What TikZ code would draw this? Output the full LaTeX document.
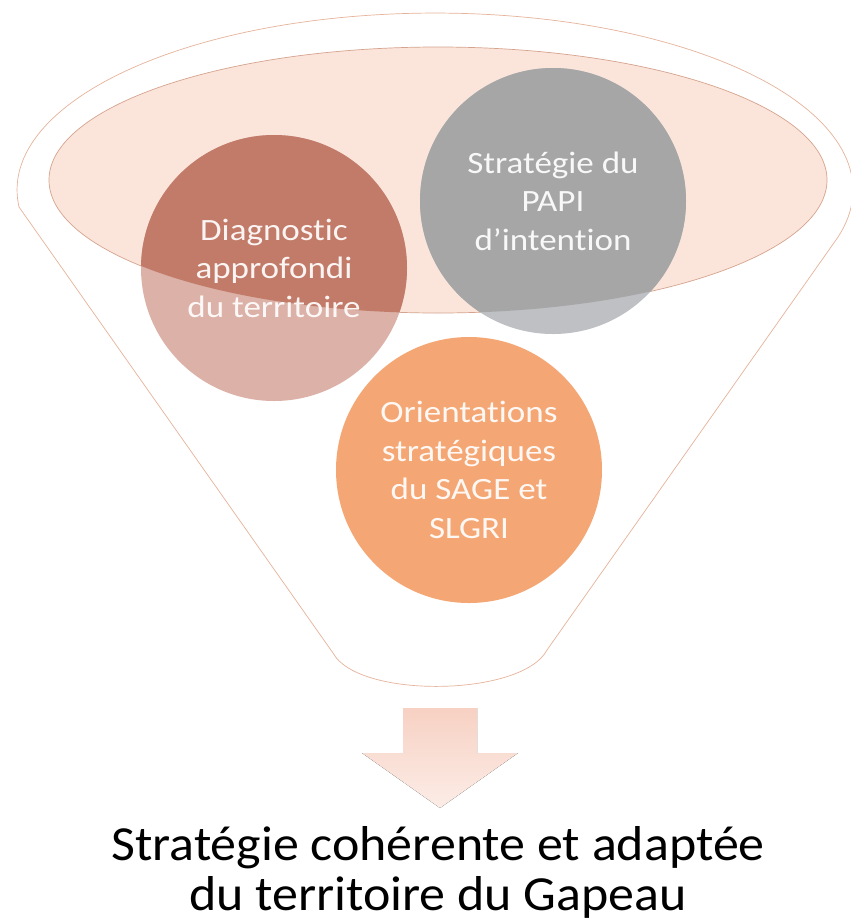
\documentclass[tikz,border=0pt]{standalone}
\usepackage{fontspec}
\setmainfont{Carlito}[Ligatures=NoCommon]
\newfontfamily\bubblefont{Carlito}[FakeStretch=1.13, Ligatures=NoCommon]
\newfontfamily\outcomefont{Carlito}[FakeStretch=1.06, Ligatures=NoCommon]
\usepackage{xcolor}
\usepackage{tikz}
\usetikzlibrary{calc}
\definecolor{funnelline}{HTML}{E6B39B}
\definecolor{poolfill}{HTML}{FBE5DB}
\definecolor{poolline}{HTML}{D6A38E}
\definecolor{diagdark}{HTML}{C27B69}
\definecolor{diaglight}{HTML}{DCB1A7}
\definecolor{papidark}{HTML}{A6A6A6}
\definecolor{papilight}{HTML}{BEC0C3}
\definecolor{orientfill}{HTML}{F4A774}
\definecolor{arrowpeach}{HTML}{F7D1C3}
\newcommand{\poolrx}{389}
\newcommand{\poolry}{133}
\tikzset{
  funnel/.style={draw=funnelline, fill=white, line width=0.7pt},
  pool/.style={draw=poolline, fill=poolfill, line width=0.7pt},
  bubble/.style={circle, minimum size=266pt, inner sep=0pt, align=center,
    text=white, text opacity=0.92, font=\bubblefont\fontsize{31}{38.5}\selectfont},
  inpool/.style={path picture={\fill[#1] (poolc) ellipse [x radius=\poolrx, y radius=\poolry];}},
  outcome/.style={align=center, inner sep=0pt, font=\outcomefont\fontsize{49}{50}\selectfont},
}

\begin{document}
\begin{tikzpicture}[x=1pt, y=-1pt]
\useasboundingbox (0,0) rectangle (851,922);

% entonnoir
\draw[funnel] (19,207) arc [start angle=174.5, end angle=375.4, x radius=418, y radius=177]
  -- (547,650) .. controls (522,697) and (358,699) .. (333,653) -- cycle;
\coordinate (poolc) at (438,180);
\draw[pool] (poolc) ellipse [x radius=\poolrx, y radius=\poolry];

% cercles
\node[bubble, fill=diaglight, inpool=diagdark] (diag) at (274,268) {Diagnostic\\approfondi\\du territoire};
\node[bubble, fill=papilight, inpool=papidark] (papi) at (553,201) {Stratégie du\\PAPI\\d’intention};
\node[bubble, fill=orientfill] (orient) at (469,470) {Orientations\\stratégiques\\du SAGE et\\SLGRI};

% fleche et resultat
\coordinate (shaft) at (440,708);
\fill[top color=arrowpeach, bottom color=arrowpeach!40] ($(shaft)+(-37,0)$) -- ($(shaft)+(37,0)$) -- ($(shaft)+(37,45)$)
  -- ($(shaft)+(78,45)$) -- ($(shaft)+(0,100)$) -- ($(shaft)+(-78,45)$) -- ($(shaft)+(-37,45)$) -- cycle;
\node[outcome, anchor=base] (result) at (438,910) {Stratégie cohérente et adaptée\\du territoire du Gapeau};
\end{tikzpicture}
\end{document}
